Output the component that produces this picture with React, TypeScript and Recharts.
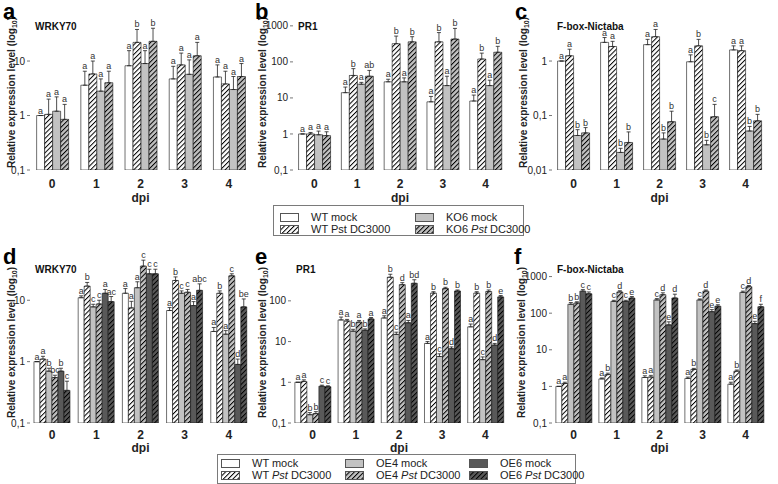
import React from 'react';
import { BarChart, Bar, XAxis, YAxis, ErrorBar, LabelList, ReferenceArea, Label } from 'recharts';

// ---------- categories ----------
const DPI = ['0', '1', '2', '3', '4'];

// ---------- panel a : WRKY70 (KO6) ----------
const A_WT_MOCK = [1.0, 3.6, 8.2, 4.7, 5.1];
const A_WT_MOCK_TOP = [1.0, 6.5, 15.5, 8.0, 8.5];
const A_WT_MOCK_SIG = ['a', 'a', 'a', 'a', 'a'];
const A_WT_PST = [1.05, 5.8, 22, 8.5, 3.8];
const A_WT_PST_TOP = [2.0, 10, 38, 14, 6.5];
const A_WT_PST_SIG = ['a', 'a', 'b', 'a', 'a'];
const A_KO_MOCK = [1.2, 2.8, 9.0, 5.7, 3.0];
const A_KO_MOCK_TOP = [2.2, 4.7, 15.5, 10.5, 5.2];
const A_KO_MOCK_SIG = ['a', 'a', 'a', 'a', 'a'];
const A_KO_PST = [0.85, 4.0, 23, 12.5, 5.2];
const A_KO_PST_TOP = [1.6, 6.5, 40, 22, 9.0];
const A_KO_PST_SIG = ['a', 'a', 'b', 'a', 'a'];

// ---------- panel b : PR1 (KO6) ----------
const B_WT_MOCK = [1.0, 14, 28, 7.8, 8.2];
const B_WT_MOCK_TOP = [1.0, 20, 33, 11, 12];
const B_WT_MOCK_SIG = ['a', 'a', 'a', 'a', 'a'];
const B_WT_PST = [1.0, 42, 320, 360, 120];
const B_WT_PST_TOP = [1.1, 65, 520, 650, 175];
const B_WT_PST_SIG = ['a', 'b', 'b', 'b', 'b'];
const B_KO_MOCK = [0.95, 24, 28, 22, 22];
const B_KO_MOCK_TOP = [1.2, 27, 36, 40, 31];
const B_KO_MOCK_SIG = ['a', 'a', 'a', 'a', 'a'];
const B_KO_PST = [0.9, 40, 360, 430, 185];
const B_KO_PST_TOP = [1.15, 58, 500, 850, 270];
const B_KO_PST_SIG = ['a', 'ab', 'b', 'b', 'b'];

// ---------- panel c : F-box-Nictaba (KO6) ----------
const C_WT_MOCK = [1.0, 2.2, 2.0, 0.97, 1.6];
const C_WT_MOCK_TOP = [1.0, 2.7, 2.5, 1.3, 1.9];
const C_WT_MOCK_SIG = ['a', 'a', 'a', 'a', 'a'];
const C_WT_PST = [1.25, 1.85, 2.8, 1.9, 1.55];
const C_WT_PST_TOP = [1.65, 2.3, 3.8, 2.5, 1.9];
const C_WT_PST_SIG = ['a', 'a', 'a', 'b', 'a'];
const C_KO_MOCK = [0.043, 0.021, 0.037, 0.029, 0.052];
const C_KO_MOCK_TOP = [0.055, 0.025, 0.048, 0.035, 0.063];
const C_KO_MOCK_SIG = ['b', 'b', 'b', 'b', 'b'];
const C_KO_PST = [0.048, 0.032, 0.077, 0.095, 0.08];
const C_KO_PST_TOP = [0.06, 0.05, 0.12, 0.16, 0.105];
const C_KO_PST_SIG = ['b', 'b', 'b', 'c', 'b'];

// ---------- panel d : WRKY70 (OE) ----------
const D_WT_MOCK = [1.0, 11, 13, 6.8, 3.1];
const D_WT_MOCK_TOP = [1.0, 11.8, 15.5, 7.6, 3.6];
const D_WT_MOCK_SIG = ['a', 'a', 'a', 'a', 'a'];
const D_WT_PST = [1.1, 17, 7.5, 21, 13];
const D_WT_PST_TOP = [1.22, 19.5, 9.6, 24, 14.2];
const D_WT_PST_SIG = ['a', 'b', 'a', 'b', 'b'];
const D_OE4_MOCK = [0.7, 7.8, 16, 13, 2.8];
const D_OE4_MOCK_TOP = [0.78, 8.6, 20, 14.2, 3.2];
const D_OE4_MOCK_SIG = ['b', 'c', 'a', 'c', 'a'];
const D_OE4_PST = [0.55, 8.7, 36, 13.5, 25];
const D_OE4_PST_TOP = [0.6, 10, 45, 15, 27];
const D_OE4_PST_SIG = ['bc', 'c', 'c', 'c', 'c'];
const D_OE6_MOCK = [0.7, 13, 27, 8.2, 0.9];
const D_OE6_MOCK_TOP = [0.78, 15, 32, 9.5, 1.1];
const D_OE6_MOCK_SIG = ['b', 'a', 'c', 'a', 'd'];
const D_OE6_PST = [0.34, 9.5, 27, 14.5, 7.8];
const D_OE6_PST_TOP = [0.48, 11.5, 32, 18.5, 10.5];
const D_OE6_PST_SIG = ['c', 'ac', 'c', 'abc', 'be'];

// ---------- panel e : PR1 (OE) ----------
const E_WT_MOCK = [1.0, 34, 38, 9, 23];
const E_WT_MOCK_TOP = [1.0, 40, 43, 10, 27];
const E_WT_MOCK_SIG = ['a', 'a', 'a', 'a', 'a'];
const E_WT_PST = [1.05, 32, 380, 155, 155];
const E_WT_PST_TOP = [1.15, 35, 450, 168, 168];
const E_WT_PST_SIG = ['a', 'a', 'b', 'b', 'b'];
const E_OE4_MOCK = [0.16, 18, 15, 4.3, 3.6];
const E_OE4_MOCK_TOP = [0.18, 20, 17, 5, 4.2];
const E_OE4_MOCK_SIG = ['b', 'b', 'c', 'c', 'c'];
const E_OE4_PST = [0.17, 30, 250, 200, 170];
const E_OE4_PST_TOP = [0.19, 33, 280, 215, 185];
const E_OE4_PST_SIG = ['b', 'a', 'd', 'b', 'b'];
const E_OE6_MOCK = [0.8, 19, 29, 6.7, 8.2];
const E_OE6_MOCK_TOP = [0.85, 20.5, 33, 7.4, 9];
const E_OE6_MOCK_SIG = ['c', 'b', 'a', 'd', 'd'];
const E_OE6_PST = [0.78, 36, 270, 175, 125];
const E_OE6_PST_TOP = [0.82, 39, 330, 185, 135];
const E_OE6_PST_SIG = ['c', 'a', 'bd', 'b', 'e'];

// ---------- panel f : F-box-Nictaba (OE) ----------
const F_WT_MOCK = [1.0, 1.6, 1.75, 1.65, 1.15];
const F_WT_MOCK_TOP = [1.0, 1.7, 1.95, 1.8, 1.3];
const F_WT_MOCK_SIG = ['a', 'a', 'a', 'a', 'a'];
const F_WT_PST = [1.2, 2.1, 1.8, 2.9, 2.6];
const F_WT_PST_TOP = [1.3, 2.3, 2.0, 3.1, 2.8];
const F_WT_PST_SIG = ['a', 'b', 'a', 'b', 'b'];
const F_OE4_MOCK = [175, 210, 230, 230, 370];
const F_OE4_MOCK_TOP = [195, 225, 250, 245, 400];
const F_OE4_MOCK_SIG = ['b', 'c', 'c', 'c', 'c'];
const F_OE4_PST = [190, 380, 320, 400, 530];
const F_OE4_PST_TOP = [205, 410, 360, 430, 570];
const F_OE4_PST_SIG = ['b', 'd', 'd', 'd', 'd'];
const F_OE6_MOCK = [400, 210, 48, 110, 52];
const F_OE6_MOCK_TOP = [440, 225, 58, 125, 60];
const F_OE6_MOCK_SIG = ['c', 'c', 'e', 'e', 'e'];
const F_OE6_PST = [340, 260, 260, 155, 150];
const F_OE6_PST_TOP = [380, 285, 330, 170, 175];
const F_OE6_PST_SIG = ['c', 'e', 'd', 'e', 'f'];

// ---------- axis ticks / domains ----------
const TICKS_A = [0.1, 1, 10];
const TICKS_B = [0.1, 1, 10, 100, 1000];
const TICKS_C = [0.01, 0.1, 1];
const TICKS_D = [0.1, 1, 10];
const TICKS_E = [0.1, 1, 10, 100];
const TICKS_F = [0.1, 1, 10, 100, 1000];
const DOMAIN_A = [0.1, 70];
const DOMAIN_B = [0.1, 2000];
const DOMAIN_C = [0.01, 7];
const DOMAIN_D = [0.1, 42];
const DOMAIN_E = [0.1, 900];
const DOMAIN_F = [0.1, 2500];

// ---------- legends ----------
const TOP_LEGEND_LABELS = ['WT mock', 'WT Pst DC3000', 'KO6 mock', 'KO6 Pst DC3000'];
const TOP_LEGEND_ITALIC = [false, false, false, true];
const BOTTOM_LEGEND_LABELS = ['WT mock', 'WT Pst DC3000', 'OE4 mock', 'OE4 Pst DC3000', 'OE6 mock', 'OE6 Pst DC3000'];
const BOTTOM_LEGEND_ITALIC = [false, true, false, true, false, true];

type StyleKey = 'white' | 'whiteHatch' | 'light' | 'lightHatch' | 'dark' | 'darkHatch';
const TOP_STYLES: StyleKey[] = ['white', 'whiteHatch', 'light', 'lightHatch'];
const BOTTOM_STYLES: StyleKey[] = ['white', 'whiteHatch', 'light', 'lightHatch', 'dark', 'darkHatch'];

const FILLS: Record<StyleKey, string> = {
  white: '#ffffff', whiteHatch: '#ffffff', light: '#c2c2c2', lightHatch: '#c2c2c2', dark: '#595959', darkHatch: '#595959',
};
const HATCHED: Record<StyleKey, boolean> = {
  white: false, whiteHatch: true, light: false, lightHatch: true, dark: false, darkHatch: true,
};

type Series = { mean: number[]; top: number[]; sig: string[]; style: StyleKey };

const mk = (mean: number[], top: number[], sig: string[], style: StyleKey): Series => ({ mean, top, sig, style });

const SERIES_A = [
  mk(A_WT_MOCK, A_WT_MOCK_TOP, A_WT_MOCK_SIG, 'white'),
  mk(A_WT_PST, A_WT_PST_TOP, A_WT_PST_SIG, 'whiteHatch'),
  mk(A_KO_MOCK, A_KO_MOCK_TOP, A_KO_MOCK_SIG, 'light'),
  mk(A_KO_PST, A_KO_PST_TOP, A_KO_PST_SIG, 'lightHatch'),
];
const SERIES_B = [
  mk(B_WT_MOCK, B_WT_MOCK_TOP, B_WT_MOCK_SIG, 'white'),
  mk(B_WT_PST, B_WT_PST_TOP, B_WT_PST_SIG, 'whiteHatch'),
  mk(B_KO_MOCK, B_KO_MOCK_TOP, B_KO_MOCK_SIG, 'light'),
  mk(B_KO_PST, B_KO_PST_TOP, B_KO_PST_SIG, 'lightHatch'),
];
const SERIES_C = [
  mk(C_WT_MOCK, C_WT_MOCK_TOP, C_WT_MOCK_SIG, 'white'),
  mk(C_WT_PST, C_WT_PST_TOP, C_WT_PST_SIG, 'whiteHatch'),
  mk(C_KO_MOCK, C_KO_MOCK_TOP, C_KO_MOCK_SIG, 'light'),
  mk(C_KO_PST, C_KO_PST_TOP, C_KO_PST_SIG, 'lightHatch'),
];
const SERIES_D = [
  mk(D_WT_MOCK, D_WT_MOCK_TOP, D_WT_MOCK_SIG, 'white'),
  mk(D_WT_PST, D_WT_PST_TOP, D_WT_PST_SIG, 'whiteHatch'),
  mk(D_OE4_MOCK, D_OE4_MOCK_TOP, D_OE4_MOCK_SIG, 'light'),
  mk(D_OE4_PST, D_OE4_PST_TOP, D_OE4_PST_SIG, 'lightHatch'),
  mk(D_OE6_MOCK, D_OE6_MOCK_TOP, D_OE6_MOCK_SIG, 'dark'),
  mk(D_OE6_PST, D_OE6_PST_TOP, D_OE6_PST_SIG, 'darkHatch'),
];
const SERIES_E = [
  mk(E_WT_MOCK, E_WT_MOCK_TOP, E_WT_MOCK_SIG, 'white'),
  mk(E_WT_PST, E_WT_PST_TOP, E_WT_PST_SIG, 'whiteHatch'),
  mk(E_OE4_MOCK, E_OE4_MOCK_TOP, E_OE4_MOCK_SIG, 'light'),
  mk(E_OE4_PST, E_OE4_PST_TOP, E_OE4_PST_SIG, 'lightHatch'),
  mk(E_OE6_MOCK, E_OE6_MOCK_TOP, E_OE6_MOCK_SIG, 'dark'),
  mk(E_OE6_PST, E_OE6_PST_TOP, E_OE6_PST_SIG, 'darkHatch'),
];
const SERIES_F = [
  mk(F_WT_MOCK, F_WT_MOCK_TOP, F_WT_MOCK_SIG, 'white'),
  mk(F_WT_PST, F_WT_PST_TOP, F_WT_PST_SIG, 'whiteHatch'),
  mk(F_OE4_MOCK, F_OE4_MOCK_TOP, F_OE4_MOCK_SIG, 'light'),
  mk(F_OE4_PST, F_OE4_PST_TOP, F_OE4_PST_SIG, 'lightHatch'),
  mk(F_OE6_MOCK, F_OE6_MOCK_TOP, F_OE6_MOCK_SIG, 'dark'),
  mk(F_OE6_PST, F_OE6_PST_TOP, F_OE6_PST_SIG, 'darkHatch'),
];

const FONT = '"Liberation Sans", Arial, Helvetica, sans-serif';

const fillOf = (style: StyleKey, pid: string) => (HATCHED[style] ? `url(#${pid}-${style})` : FILLS[style]);

function Patterns({ pid }: { pid: string }) {
  const keys: StyleKey[] = ['whiteHatch', 'lightHatch', 'darkHatch'];
  return (
    <defs>
      {keys.map((k) => (
        <pattern key={k} id={`${pid}-${k}`} width={3.4} height={3.4} patternUnits="userSpaceOnUse" patternTransform="rotate(45)">
          <rect x={0} y={0} width={3.4} height={3.4} fill={FILLS[k]} />
          <line x1={0.5} y1={0} x2={0.5} y2={3.4} stroke="#000" strokeWidth={1} />
        </pattern>
      ))}
    </defs>
  );
}

const fmt = (v: number) => String(v).replace('.', ',');

type Geo = {
  chartLeft: number; chartTop: number; plotLeft: number; plotRight: number; plotTop: number; plotBottom: number;
  axisH: number; labelOff: number; dpiOff: number; titleOff: number; tickOff: number;
};

function Panel({ pid, letter, title, series, ticks, domain, geo, gap }: {
  pid: string; letter: string; title: string; series: Series[]; ticks: number[]; domain: number[]; geo: Geo; gap: string;
}) {
  const rows = DPI.map((d, i) => {
    const r: Record<string, any> = { dpi: d };
    series.forEach((s, j) => {
      r['v' + j] = s.mean[i];
      r['e' + j] = [0, Math.max(0, s.top[i] - s.mean[i])];
      r['l' + j] = s.sig[i];
    });
    return r;
  });
  const base = domain[0];
  const width = geo.plotRight - geo.chartLeft + 3;
  const height = geo.plotBottom - geo.chartTop + geo.axisH;

  const sigLabel = (j: number) => (props: any) => {
    const vb = props.viewBox || props;
    const idx = props.index;
    if (idx == null || !rows[idx]) return null;
    const row = rows[idx];
    const mean = row['v' + j];
    const top = mean + row['e' + j][1];
    const h = vb.height;
    const dec = Math.log10(mean / base);
    if (!(h > 0) || !(dec > 0)) return null;
    const pxPer = h / dec;
    const yTop = vb.y + h - Math.log10(top / base) * pxPer;
    return (
      <text x={vb.x + vb.width / 2} y={yTop - 2} textAnchor="middle" fontSize={9} fill="#333" fontFamily={FONT}>
        {row['l' + j]}
      </text>
    );
  };

  const xTick = (p: any) => (
    <text x={p.x} y={p.y + geo.tickOff} textAnchor="middle" fontSize={12} fontWeight="bold" fill="#222" fontFamily={FONT}>
      {p.payload.value}
    </text>
  );

  const dpiLabel = (p: any) => {
    const vb = p.viewBox;
    return (
      <text x={vb.x + vb.width / 2} y={vb.y + geo.dpiOff} textAnchor="middle" fontSize={12} fontWeight="bold" fill="#222" fontFamily={FONT}>
        dpi
      </text>
    );
  };

  const yLabel = (p: any) => {
    const vb = p.viewBox;
    const cx = vb.x + geo.labelOff;
    const cy = vb.y + vb.height / 2;
    return (
      <text x={cx} y={cy} transform={`rotate(-90 ${cx} ${cy})`} textAnchor="middle" dominantBaseline="central"
        fontSize={10} fontWeight="bold" fill="#222" fontFamily={FONT}>
        Relative expression level (log<tspan fontSize={7} dy={3}>10</tspan><tspan dy={-3}>)</tspan>
      </text>
    );
  };

  return (
    <>
      <div style={{ position: 'absolute', left: geo.chartLeft, top: geo.chartTop }}>
        <BarChart
          width={width}
          height={height}
          data={rows}
          margin={{ top: geo.plotTop - geo.chartTop, right: 3, bottom: 0, left: 0 }}
          barGap={0}
          barCategoryGap={gap}
        >
          <Patterns pid={pid} />
          <XAxis dataKey="dpi" height={geo.axisH} axisLine={false} tickLine={false} tickSize={0} tickMargin={0} interval={0} tick={xTick}>
            <Label content={dpiLabel} />
          </XAxis>
          <YAxis
            scale="log"
            domain={domain}
            ticks={ticks}
            allowDataOverflow
            width={geo.plotLeft - geo.chartLeft}
            axisLine={false}
            tickSize={3}
            tickMargin={2}
            tickLine={{ stroke: '#777' }}
            tick={{ fontSize: 10, fill: '#222', fontFamily: FONT }}
            tickFormatter={fmt}
          >
            <Label content={yLabel} />
          </YAxis>
          {series.map((s, j) => (
            <Bar key={j} dataKey={'v' + j} fill={fillOf(s.style, pid)} stroke="#111" strokeWidth={0.6} isAnimationActive={false}>
              <ErrorBar dataKey={'e' + j} width={2} stroke="#222" strokeWidth={0.8} direction="y" isAnimationActive={false} />
              <LabelList dataKey={'l' + j} content={sigLabel(j)} />
            </Bar>
          ))}
          <ReferenceArea fill="none" stroke="#8a8a8a" strokeWidth={1} ifOverflow="visible" />
        </BarChart>
      </div>
      <div style={{ position: 'absolute', left: geo.plotLeft + 5, top: geo.plotTop + geo.titleOff - 9, fontSize: 10, lineHeight: '10px', fontWeight: 'bold', color: '#111', whiteSpace: 'nowrap' }}>
        {title}
      </div>
      <div style={{ position: 'absolute', left: geo.chartLeft + (pid === 'a' || pid === 'd' ? 3 : 4), top: geo.chartTop + 1, fontSize: 22, lineHeight: '22px', fontWeight: 'bold', color: '#000' }}>
        {letter}
      </div>
    </>
  );
}

function LegendLabel({ text, italic }: { text: string; italic: boolean }) {
  if (!italic) return <>{text}</>;
  const parts = text.split('Pst');
  return (
    <>
      {parts[0]}
      <i>Pst</i>
      {parts[1]}
    </>
  );
}

function Swatch({ style, pid }: { style: StyleKey; pid: string }) {
  return (
    <svg width={19} height={9} style={{ display: 'block' }}>
      <Patterns pid={pid} />
      <rect x={0.5} y={0.5} width={18} height={8} fill={fillOf(style, pid)} stroke="#555" strokeWidth={1} />
    </svg>
  );
}

function SharedLegend({ pid, labels, italic, styles, left, top, width, height, colW, padL, padT, rowH }: {
  pid: string; labels: string[]; italic: boolean[]; styles: StyleKey[]; left: number; top: number; width: number; height: number;
  colW: number; padL: number; padT: number; rowH: number;
}) {
  return (
    <div style={{ position: 'absolute', left, top, width, height, boxSizing: 'border-box', border: '1px solid #7a7a7a', background: '#fff' }}>
      {labels.map((lab, i) => {
        const col = Math.floor(i / 2);
        const row = i % 2;
        return (
          <div key={i} style={{ position: 'absolute', left: padL + col * colW, top: padT + row * rowH, height: rowH, display: 'flex', alignItems: 'center', whiteSpace: 'nowrap' }}>
            <Swatch style={styles[i]} pid={`${pid}-sw${i}`} />
            <span style={{ marginLeft: 12, fontSize: 11, lineHeight: '11px', color: '#222' }}>
              <LegendLabel text={lab} italic={italic[i]} />
            </span>
          </div>
        );
      })}
    </div>
  );
}

const TOP_ROW = { chartTop: 0, plotTop: 15, plotBottom: 170, axisH: 40, dpiOff: 32, titleOff: 16, tickOff: 17.5 };
const BOT_ROW = { chartTop: 245, plotTop: 262, plotBottom: 423, axisH: 31, dpiOff: 29, titleOff: 12, tickOff: 15.5 };

export default function App() {
  return (
    <div style={{ position: 'absolute', left: 0, top: 0, width: 778, height: 484, background: '#fff', overflow: 'hidden', fontFamily: FONT }}>
      <Panel pid="a" letter="a" title="WRKY70" series={SERIES_A} ticks={TICKS_A} domain={DOMAIN_A} gap="15%"
        geo={{ ...TOP_ROW, chartLeft: 0, plotLeft: 30, plotRight: 251, labelOff: 11 }} />
      <Panel pid="b" letter="b" title="PR1" series={SERIES_B} ticks={TICKS_B} domain={DOMAIN_B} gap="13%"
        geo={{ ...TOP_ROW, chartLeft: 251, plotLeft: 293, plotRight: 507, labelOff: 11 }} />
      <Panel pid="c" letter="c" title="F-box-Nictaba" series={SERIES_C} ticks={TICKS_C} domain={DOMAIN_C} gap="13%"
        geo={{ ...TOP_ROW, chartLeft: 511, plotLeft: 552, plotRight: 767, labelOff: 12 }} />
      <Panel pid="d" letter="d" title="WRKY70" series={SERIES_D} ticks={TICKS_D} domain={DOMAIN_D} gap="9%"
        geo={{ ...BOT_ROW, chartLeft: 0, plotLeft: 30, plotRight: 251, labelOff: 11 }} />
      <Panel pid="e" letter="e" title="PR1" series={SERIES_E} ticks={TICKS_E} domain={DOMAIN_E} gap="9%"
        geo={{ ...BOT_ROW, chartLeft: 251, plotLeft: 291, plotRight: 507, labelOff: 11 }} />
      <Panel pid="f" letter="f" title="F-box-Nictaba" series={SERIES_F} ticks={TICKS_F} domain={DOMAIN_F} gap="9%"
        geo={{ ...BOT_ROW, chartLeft: 510, plotLeft: 552, plotRight: 767, labelOff: 11 }} />
      <SharedLegend pid="lt" labels={TOP_LEGEND_LABELS} italic={TOP_LEGEND_ITALIC} styles={TOP_STYLES}
        left={273} top={205} width={251} height={31} colW={135} padL={6} padT={5} rowH={12} />
      <SharedLegend pid="lb" labels={BOTTOM_LEGEND_LABELS} italic={BOTTOM_LEGEND_ITALIC} styles={BOTTOM_STYLES}
        left={217} top={454} width={359} height={30} colW={124} padL={3} padT={2.5} rowH={12} />
    </div>
  );
}
